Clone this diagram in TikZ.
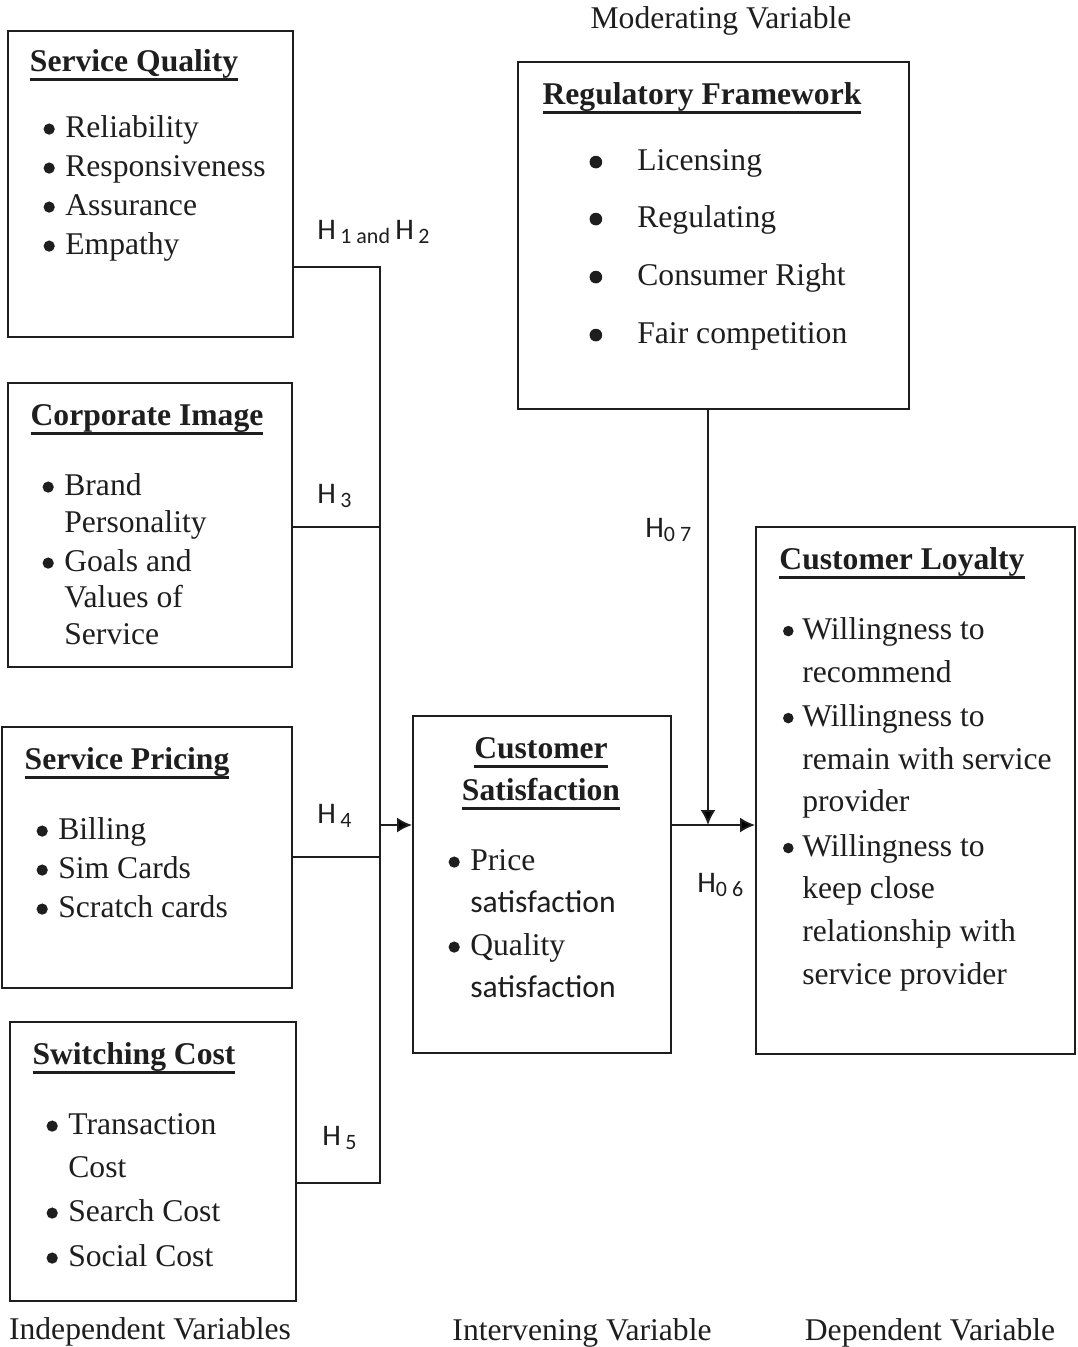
\documentclass[tikz,border=0pt]{standalone}
\usepackage{fontspec}
\setmainfont{Liberation Serif}
\setsansfont{Carlito}
\usetikzlibrary{arrows.meta}

\definecolor{ink}{RGB}{30,30,30}
\newcommand{\bul}[2][6pt]{\llap{\tikz[baseline=-5pt]\fill[ink] (0,0) circle (#2);\hspace{#1}}}
\newcommand{\hsub}[1]{\raisebox{-2.5pt}{\fontsize{12.5}{13}\selectfont #1}}
\newcommand{\undl}[1]{\setbox0\hbox{#1}\rlap{\rule[-5pt]{\wd0}{1.3pt}}\box0}

\tikzstyle{box} = [draw=ink, line width=1.1pt, inner sep=0pt]
\tikzstyle{item} = [anchor=west, inner sep=0pt, text height=15pt, text depth=1.5pt, font=\fontsize{18}{22}\selectfont]
\tikzstyle{title} = [item, anchor=center, font=\fontsize{18}{22}\selectfont\bfseries]
\tikzstyle{hyp} = [anchor=base west, inner sep=0pt, font=\sffamily\fontsize{17}{19}\selectfont]
\tikzstyle{link} = [draw=ink, line width=1.1pt]
\tikzstyle{tip} = [link, -{Latex[length=3mm,width=3mm]}]

\begin{document}
\begin{tikzpicture}[x=0.02cm, y=-0.02cm, text=ink]
	\useasboundingbox (0,0) rectangle (1078,1347);
	% boxes
	\node[box, minimum width=5.70cm, minimum height=6.12cm] (sq) at (150.5,184) {};
	\node[box, minimum width=5.68cm, minimum height=5.68cm] (ci) at (150,525) {};
	\node[box, minimum width=5.80cm, minimum height=5.22cm] (sp) at (147,857.5) {};
	\node[box, minimum width=5.72cm, minimum height=5.58cm] (sc) at (153,1161.5) {};
	\node[box, minimum width=7.82cm, minimum height=6.94cm] (rf) at (713.5,235.5) {};
	\node[box, minimum width=5.16cm, minimum height=6.74cm] (cs) at (542,884.5) {};
	\node[box, minimum width=6.38cm, minimum height=10.54cm] (cl) at (915.5,790.5) {};

	% titles
	\node[title] (sqt) at (134,60) {\undl{Service Quality}};
	\node[title] (cit) at (147,414) {\undl{Corporate Image}};
	\node[title] (spt) at (127,758) {\undl{Service Pricing}};
	\node[title] (sct) at (134,1053) {\undl{Switching Cost}};
	\node[title] (rft) at (702,93) {\undl{Regulatory Framework}};
	\node[title] (cst1) at (541,747) {\undl{Customer}};
	\node[title] (cst2) at (541,789) {\undl{Satisfaction}};
	\node[title] (clt) at (902,558) {\undl{Customer Loyalty}};

	% items
	\foreach \y/\n/\t in {126/sq1/\bul{3.2pt}Reliability, 165/sq2/\bul{3.2pt}Responsiveness, 204/sq3/\bul{3.2pt}Assurance, 243/sq4/\bul{3.2pt}Empathy}
		\node[item] (\n) at (65,\y) {\t};
	\foreach \y/\n/\t in {484/ci1/\bul{3.2pt}Brand, 521/ci2/Personality, 560/ci3/\bul{3.2pt}Goals and, 596/ci4/Values of, 633/ci5/Service}
		\node[item] (\n) at (64,\y) {\t};
	\foreach \y/\n/\t in {828/sp1/\bul{3.2pt}Billing, 867/sp2/\bul{3.2pt}Sim Cards, 906/sp3/\bul{3.2pt}Scratch cards}
		\node[item] (\n) at (58,\y) {\t};
	\foreach \y/\n/\t in {1123/sc1/\bul{3.2pt}Transaction, 1166/sc2/Cost, 1210/sc3/\bul{3.2pt}Search Cost, 1255/sc4/\bul{3.2pt}Social Cost}
		\node[item] (\n) at (68,\y) {\t};
	\foreach \y/\n/\t in {159/rf1/Licensing, 216/rf2/Regulating, 274/rf3/Consumer Right, 332/rf4/Fair competition}
		\node[item] (\n) at (637,\y) {\bul[20pt]{3.6pt}\t};
	\foreach \y/\n/\t in {859/cs1/\bul{3.2pt}Price, 901/cs2/{\sffamily satisfaction}, 944/cs3/\bul{3.2pt}Quality, 986/cs4/{\sffamily satisfaction}}
		\node[item] (\n) at (470,\y) {\t};
	\foreach \y/\n/\t in {628/cl1/\bul[5pt]{3pt}Willingness to, 671/cl2/recommend, 715/cl3/\bul[5pt]{3pt}Willingness to, 758/cl4/remain with service, 800/cl5/provider, 845/cl6/\bul[5pt]{3pt}Willingness to, 887/cl7/keep close, 930/cl8/relationship with, 973/cl9/service provider}
		\node[item] (\n) at (802,\y) {\t};

	% variable captions
	\node[item, anchor=center] (mv) at (721,17) {Moderating Variable};
	\node[item, anchor=center] (iv) at (150,1328) {Independent Variables};
	\node[item, anchor=center] (tv) at (582,1329) {Intervening Variable};
	\node[item, anchor=center] (dv) at (930,1329) {Dependent Variable};

	% connectors
	\coordinate (j1) at (380,267);
	\coordinate (j3) at (380,527);
	\coordinate (j4) at (380,857);
	\coordinate (j5) at (380,1183);
	\coordinate (jcs) at (380,825);
	\coordinate (jcl) at (708,825);
	\draw[link] (sq.east |- j1) -- (j1) -- (j5) -- (sc.east |- j5);
	\draw[link] (ci.east |- j3) -- (j3);
	\draw[link] (sp.east |- j4) -- (j4);
	\draw[tip] (jcs) -- (cs.west |- jcs);
	\draw[tip] (cs.east |- jcl) -- (cl.west |- jcl);
	\draw[tip] (rf.south -| jcl) -- (jcl);

	% hypotheses
	\node[hyp] (h12) at (317,239) {H\hspace{2.5pt}\hsub{1 and}\hspace{3pt}H\hspace{2.5pt}\hsub{2}};
	\node[hyp] (h3) at (317,503) {H\hspace{2.5pt}\hsub{3}};
	\node[hyp] (h4) at (317,823) {H\hspace{2.5pt}\hsub{4}};
	\node[hyp] (h5) at (322,1145) {H\hspace{2.5pt}\hsub{5}};
	\node[hyp] (h07) at (645,537) {H\hsub{0 7}};
	\node[hyp] (h06) at (697,892) {H\hsub{0 6}};
\end{tikzpicture}
\end{document}
